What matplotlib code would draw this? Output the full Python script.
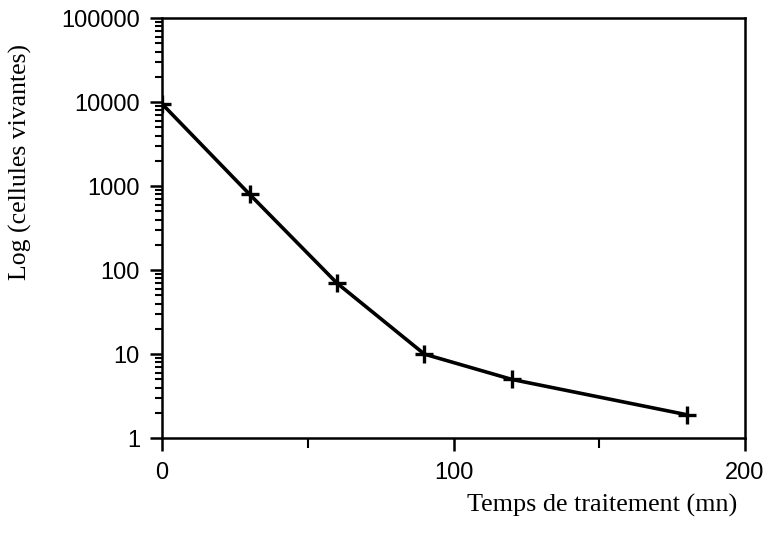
import matplotlib
matplotlib.use("Agg")
import matplotlib.pyplot as plt
from matplotlib.ticker import LogLocator, FixedLocator, NullFormatter

temps = [0, 30, 60, 90, 120, 180]
cellules = [9500, 800, 70, 10, 5, 1.9]
xticks = [0, 100, 200]
xminor = [50, 150]
yticks = [1, 10, 100, 1000, 10000, 100000]
ylabels = ["1", "10", "100", "1000", "10000", "100000"]

fig = plt.figure(figsize=(7.72, 5.33), dpi=100)
ax = fig.add_axes([0.21, 0.178, 0.755, 0.788])
ax.plot(temps, cellules, color="black", lw=2.6, marker="+", ms=13, mew=2.4)
ax.set_yscale("log")
ax.set_xlim(0, 200)
ax.set_ylim(1, 100000)
ax.set_yticks(yticks)
ax.set_yticklabels(ylabels)
ax.yaxis.set_minor_locator(LogLocator(base=10, subs=range(2, 10)))
ax.yaxis.set_minor_formatter(NullFormatter())
ax.set_xticks(xticks)
ax.set_xticklabels([str(v) for v in xticks])
ax.xaxis.set_minor_locator(FixedLocator(xminor))
for s in ax.spines.values():
    s.set_linewidth(1.8)
ax.tick_params(which="major", direction="out", length=9, width=1.8)
ax.tick_params(axis="y", which="major", pad=7)
ax.tick_params(axis="x", which="major", pad=8)
ax.tick_params(which="minor", direction="out", length=5, width=1.5)
ax.tick_params(axis="x", which="minor", length=7)
for lab in ax.get_xticklabels() + ax.get_yticklabels():
    lab.set_fontfamily("Liberation Sans")
    lab.set_fontsize(17)
fig.text(0.955, 0.041, "Temps de traitement (mn)", ha="right", va="baseline",
         fontfamily="Liberation Serif", fontsize=18.8)
fig.text(0.027, 0.696, "Log (cellules vivantes)", ha="center", va="center",
         rotation=90, fontfamily="Liberation Serif", fontsize=18.5)
fig.savefig("out.png", dpi=100)
